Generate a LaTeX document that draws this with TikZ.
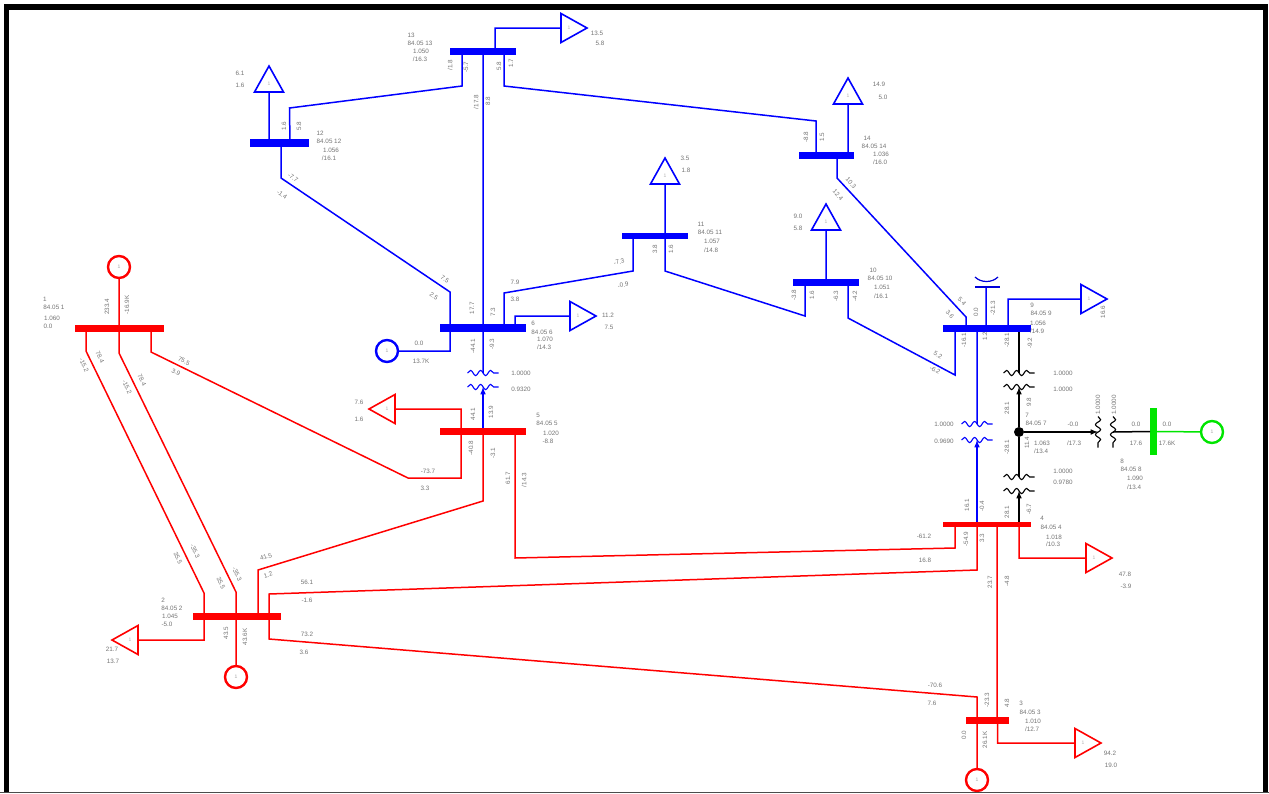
\documentclass[tikz,border=0pt]{standalone}
\usepackage{fontspec}
\setmainfont{Liberation Sans}
\usepackage{tikz}
\usetikzlibrary{arrows,shapes.geometric,decorations.pathmorphing}

\begin{document}
\begin{tikzpicture}[x=1pt,y=-1pt,
    busbar/.style={rectangle,fill=#1,inner sep=0pt,outer sep=0pt},
    feeder/.style={draw=#1,line width=1.5pt,line join=miter},
    loadtri/.style={isosceles triangle,isosceles triangle stretches,draw=#1,fill=white,line width=1.6pt,
      minimum height=26pt,minimum width=29pt,inner sep=0pt,outer sep=0pt,anchor=lower side,
      text=gray!60,font=\fontsize{5}{5}\selectfont},
    genring/.style={circle,draw=#1,fill=white,line width=2.4pt,minimum size=22pt,inner sep=0pt,outer sep=0pt,
      text=gray!70,font=\fontsize{5}{5}\selectfont},
    winding/.style={draw=#1,line width=1.1pt,decorate,decoration={snake,amplitude=2.6pt,segment length=10pt}},
    lab/.style={text=black!55,inner sep=0pt,font=\fontsize{6.3}{7}\selectfont}]
  \useasboundingbox (0,0) rectangle (1269,793);
  \draw[line width=5.5pt] (6.5,793) |- (1265.5,7) -- (1265.5,793);
  \draw[black!70,line width=1pt] (0,792.5) -- (1269,792.5);

  \node[busbar=blue,minimum width=66pt,minimum height=7pt] (b13) at (483,51) {};
  \node[busbar=blue,minimum width=59pt,minimum height=8pt] (b12) at (279.5,143) {};
  \node[busbar=blue,minimum width=55pt,minimum height=7pt] (b14) at (826.5,155.5) {};
  \node[busbar=blue,minimum width=66pt,minimum height=6pt] (b11) at (655,236) {};
  \node[busbar=blue,minimum width=66pt,minimum height=7pt] (b10) at (826,282.5) {};
  \node[busbar=blue,minimum width=86pt,minimum height=8pt] (b6) at (483,328) {};
  \node[busbar=blue,minimum width=88pt,minimum height=7pt] (b9) at (987,328.5) {};
  \node[busbar=red,minimum width=86pt,minimum height=7pt] (b5) at (483,431.5) {};
  \node[busbar=red,minimum width=89pt,minimum height=7pt] (b1) at (119,328.5) {};
  \node[busbar=red,minimum width=88pt,minimum height=7pt] (b2) at (237,616.5) {};
  \node[busbar=red,minimum width=88pt,minimum height=5.5pt] (b4) at (987,524.5) {};
  \node[busbar=red,minimum width=43pt,minimum height=7pt] (b3) at (987.5,720.5) {};
  \node[busbar=green!90!black,minimum width=7pt,minimum height=47pt] (b8) at (1153.5,431.5) {};
  \node[circle,fill=black,inner sep=0pt,minimum size=10pt] (b7) at (1019,432) {};

  \node[loadtri=blue,shape border rotate=0] (l13) at (561,28) {1};
  \node[loadtri=blue,shape border rotate=90] (l12) at (269,92) {1};
  \node[loadtri=blue,shape border rotate=90] (l14) at (848,104) {1};
  \node[loadtri=blue,shape border rotate=90] (l11) at (665,184) {1};
  \node[loadtri=blue,shape border rotate=90] (l10) at (826,230) {1};
  \node[loadtri=blue,shape border rotate=0] (l6) at (570,316) {1};
  \node[loadtri=blue,shape border rotate=0] (l9) at (1081,299) {1};
  \node[loadtri=red,shape border rotate=180] (l5) at (395,409) {1};
  \node[loadtri=red,shape border rotate=0] (l4) at (1086,558) {1};
  \node[loadtri=red,shape border rotate=0] (l3) at (1075,743) {1};
  \node[loadtri=red,shape border rotate=180] (l2) at (138,640) {1};

  \node[genring=red] (g1) at (119,267) {1};
  \node[genring=red] (g2) at (236,677) {1};
  \node[genring=red] (g3) at (977,780) {1};
  \node[genring=blue] (g6) at (387,351) {1};
  \node[genring=green!90!black] (g8) at (1212,432) {1};

  \coordinate (t56a) at (483,373);
  \coordinate (t56b) at (483,387);
  \coordinate (t49a) at (977,424);
  \coordinate (t49b) at (977,440);
  \coordinate (t79a) at (1019,373);
  \coordinate (t79b) at (1019,387);
  \coordinate (t47a) at (1019,477);
  \coordinate (t47b) at (1019,491);
  \coordinate (t78a) at (1098,432);
  \coordinate (t78b) at (1113,432);
  \coordinate (c9) at (986,287);

  \path[feeder=blue]
  ([xshift=12]b13.center) |- (l13.lower side)
  ([xshift=-10.5]b12.center) -- (l12.lower side)
  ([xshift=21.5]b14.center) -- (l14.lower side)
  ([xshift=10]b11.center) -- (l11.lower side)
  (b10.center) -- (l10.lower side)
  ([xshift=32]b6.center) |- (l6.lower side)
  ([xshift=21]b9.center) |- (l9.lower side)
  ([xshift=10.5]b12.center) -- (289.5,108) -- (462,86) -- ([xshift=-21]b13.center)
  ([xshift=21]b13.center) -- (504,86) -- (816,121) -- ([xshift=-10.5]b14.center)
  ([xshift=1.5]b12.center) -- (281,178) -- (450,292) -- ([xshift=-33]b6.center)
  (b13.center) -- (b6.center)
  ([xshift=21]b6.center) -- (504,293) -- (633,271) -- ([xshift=-22]b11.center)
  ([xshift=10]b11.center) -- (665,271) -- (805,316) -- ([xshift=-21]b10.center)
  ([xshift=22]b10.center) -- (848,318) -- (955,375) -- ([xshift=-32]b9.center)
  ([xshift=10.5]b14.center) -- (837,178) -- (966,317) -- ([xshift=-21]b9.center)
  ([xshift=-33]b6.center) |- (g6)
  (b6.center) -- (t56a)
  ([xshift=-10]b9.center) -- (t49a)
  ([xshift=-1]b9.center) -- (c9);
  \path[feeder=blue,-latex] (b5.north) -- (t56b);
  \path[feeder=blue,-latex] ([xshift=-10]b4.north) -- (t49b);
  \draw[blue!85!black,line width=1.2pt] (975,287) -- (1000,287);
  \draw[blue!85!black,line width=1.2pt] (975,277) .. controls (981,283) and (992,283) .. (998,277);

  \path[feeder=red]
  ([xshift=-22]b5.center) |- (l5.lower side)
  ([xshift=32]b4.center) |- (l4.lower side)
  ([xshift=10]b3.center) |- (l3.lower side)
  ([xshift=-33]b2.center) |- (l2.lower side)
  (b1.center) -- (g1)
  ([xshift=-1]b2.center) -- (g2)
  ([xshift=-10.5]b3.center) -- (g3)
  ([xshift=32]b1.center) -- (151,352) -- (408,478) -- (461,478) -- ([xshift=-22]b5.center)
  ([xshift=-33]b1.center) -- (86,351) -- (204,593) -- ([xshift=-33]b2.center)
  (b1.center) -- (119,353) -- (236,592) -- ([xshift=-1]b2.center)
  (b5.center) -- (483,501) -- (258,570) -- ([xshift=21]b2.center)
  ([xshift=32]b5.center) -- (515,558) -- (955,548) -- ([xshift=-32]b4.center)
  ([xshift=32]b2.center) -- (269,594) -- (977,570) -- ([xshift=-10]b4.center)
  ([xshift=32]b2.center) -- (269,639) -- (977,697) -- ([xshift=-10.5]b3.center)
  ([xshift=10]b4.center) -- ([xshift=9.5]b3.center);

  \path[feeder=black] ([xshift=32]b9.south) -- (t79a);
  \path[feeder=black,-latex] (b7) -- (t79b);
  \path[feeder=black] (b7) -- (t47a);
  \path[feeder=black,-latex] ([xshift=32]b4.north) -- (t47b);
  \path[feeder=black,-latex] (b7) -- (t78a);
  \path[feeder=black] (t78b) -- (b8.west);
  \path[feeder=green!90!black] (b8.east) -- (g8);

  \foreach \a/\c in {t56a/blue,t56b/blue,t49a/blue,t49b/blue,t79a/black,t79b/black,t47a/black,t47b/black}
    \path[winding=\c] ([xshift=-15.5]\a) -- ([xshift=15.5]\a);
  \foreach \a in {t78a,t78b}
    \path[winding=black] ([yshift=15.5]\a) -- ([yshift=-15.5]\a);

  \foreach \x/\y/\t [count=\i] in {
    411/35/13,420/43/84.05 13,421/51/1.050,420/59/{/16.3},597/33/13.5,600/43/5.8,
    320/133/12,329/141/84.05 12,331/150/1.056,329/158/{/16.1},240/73/6.1,240/85/1.6,
    867/138/14,874/146/84.05 14,881/154/1.036,880/162/{/16.0},879/84/14.9,883/97/5.0,
    701/224/11,710/232/84.05 11,712/241/1.057,711/250/{/14.8},685/158/3.5,686/170/1.8,
    873/270/10,880/278/84.05 10,882/287/1.051,881/296/{/16.1},798/216/9.0,798/228/5.8,
    533/323/6,542/332/84.05 6,545/339/1.070,544/347/{/14.3},608/315/11.2,609/327/7.5,
    515/282/7.9,515/299/3.8,419/343/0.0,421/361/13.7K,521/373/1.0000,521/389/0.9320,
    538/415/5,547/423/84.05 5,551/433/1.020,548/441/-8.8,359/402/7.6,359/419/1.6,
    428/471/-73.7,425/488/3.3,
    1032/305/9,1041/313/84.05 9,1038/323/1.056,1037/331/{/14.9},
    1063/373/1.0000,1063/389/1.0000,1027/415/7,1036/423/84.05 7,1042/443/1.063,1041/451/{/13.4},
    1073/424/-0.0,1074/443/{/17.3},1136/424/0.0,1136/443/17.6,1167/424/0.0,1167/443/17.6K,
    944/424/1.0000,944/441/0.9690,1063/471/1.0000,1063/482/0.9780,
    1122/461/8,1131/469/84.05 8,1135/478/1.090,1134/487/{/13.4},
    1042/518/4,1051/527/84.05 4,1054/537/1.018,1053/544/{/10.3},1125/574/47.8,1126/586/-3.9,
    924/536/-61.2,925/560/16.8,935/685/-70.6,932/703/7.6,
    1021/703/3,1030/712/84.05 3,1033/721/1.010,1032/729/{/12.7},1110/753/94.2,1111/765/19.0,
    163/600/2,172/608/84.05 2,170/616/1.045,167/624/-5.0,112/649/21.7,113/661/13.7,
    307/582/56.1,307/600/-1.6,307/634/73.2,304/652/3.6,
    45/299/1,54/307/84.05 1,52/318/1.060,48/326/0.0}
    \node[lab] (n\i) at (\x,\y) {\t};

  \foreach \x/\y/\t [count=\i] in {
    450/65/{/1.8},466/67/-5.7,499/66/5.8,511/63/1.7,476/102/{/17.8},488/101/8.8,
    284/126/1.6,299/126/5.8,806/137/-8.8,822/137/1.5,655/249/3.8,671/249/1.6,
    794/295/-3.8,812/295/1.6,836/296/-6.3,855/296/-4.2,
    472/308/17.7,493/312/7.3,473/346/-44.1,492/344/-9.3,473/414/44.1,491/412/13.9,
    471/448/-40.8,493/453/-3.1,508/478/61.7,524/480/{/14.3},
    976/312/0.0,993/308/-21.3,1103/312/16.6,964/340/-16.1,985/336/1.2,1007/340/-28.1,1030/343/-9.2,
    1007/408/28.1,1029/402/9.8,1007/447/-28.1,1027/443/11.4,1098/405/1.0000,1114/405/1.0000,
    967/505/16.1,982/506/-0.4,1007/512/28.1,1029/509/-6.7,966/539/-54.9,982/538/3.3,990/582/23.7,1007/581/-4.8,
    987/700/-23.3,1007/703/4.8,964/735/0.0,985/740/26.1K,
    226/633/43.5,245/637/43.6K,107/307/233.4,127/305/-16.9K}
    \node[lab,rotate=90] (r\i) at (\x,\y) {\t};

  \foreach \x/\y/\r/\t [count=\i] in {
    293/178/-35/-7.7,282/195/-35/-1.4,851/183/-48/10.3,838/195/-48/12.4,
    619/262/15/-7.3,623/285/10/-0.9,445/279/-35/7.5,434/296/-35/2.5,
    962/301/-48/5.4,950/314/-48/3.6,938/355/-30/5.2,935/370/-30/-6.2,
    84/365/-65/-15.2,100/357/-65/78.4,127/387/-65/-15.2,142/380/-65/78.4,
    184/361/-25/75.5,176/372/-25/3.9,178/558/-65/35.5,195/551/-65/-35.3,221/583/-65/35.5,237/574/-65/-35.3,
    266/557/18/41.5,268/575/18/1.2}
    \node[lab,rotate=\r] (s\i) at (\x,\y) {\t};
\end{tikzpicture}
\end{document}
